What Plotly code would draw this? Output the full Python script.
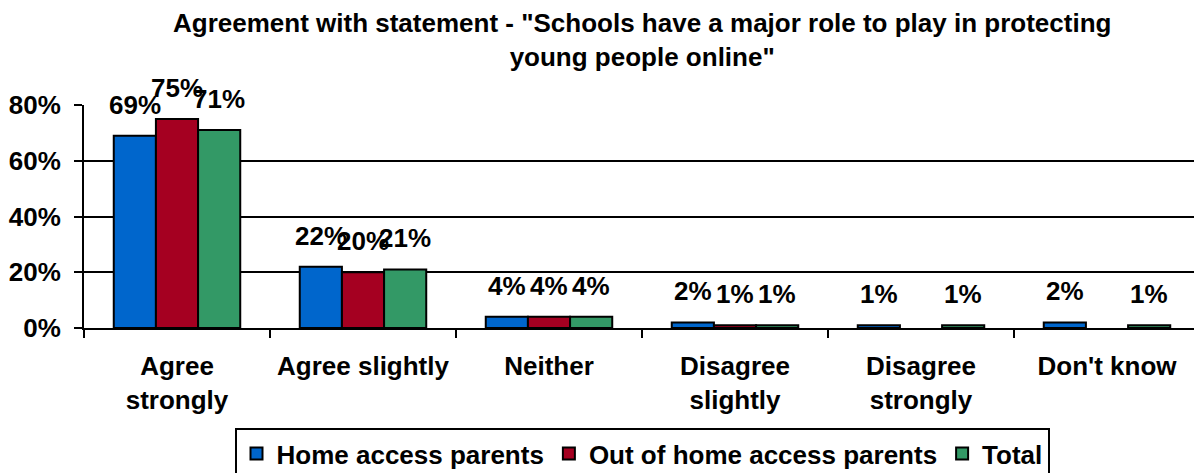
import plotly.graph_objects as go

# Survey data (percent)
categories = ["Agree<br>strongly", "Agree slightly", "Neither",
              "Disagree<br>slightly", "Disagree<br>strongly", "Don't know"]
home_access = [69, 22, 4, 2, 1, 2]
out_of_home_access = [75, 20, 4, 1, None, None]
total = [71, 21, 4, 1, 1, 1]

series_names = ["Home access parents", "Out of home access parents", "Total"]
series_colors = ["#0066CC", "#A50021", "#339966"]
y_ticks = [0, 20, 40, 60, 80]

FONT = "Liberation Sans, Arial, sans-serif"
FS = 26

# the page body has an 8px margin, so the figure is a bit smaller than the window
W, H = 1194, 465
M_L, M_R, M_T, M_B = 76, 2, 97, 145
BARGAP = 0.32
plot_w = W - M_L - M_R
plot_h = H - M_T - M_B
bar_px = plot_w / len(categories) * (1 - BARGAP) / 3

fig = go.Figure()
all_series = [home_access, out_of_home_access, total]
for name, values, color in zip(series_names, all_series, series_colors):
    fig.add_trace(go.Bar(
        x=categories,
        y=values,
        name=f"<b>{name}</b>",
        marker=dict(color=color, line=dict(color="black", width=2)),
    ))

# value labels above the bars
for i, values in enumerate(all_series):
    for cat, v in zip(categories, values):
        if v is None:
            continue
        fig.add_annotation(
            x=cat, y=v, xref="x", yref="y",
            text=f"<b>{v}%</b>", showarrow=False,
            xshift=(i - 1) * bar_px, yshift=14, yanchor="bottom",
            font=dict(family=FONT, size=FS, color="black"),
        )

# title
fig.add_annotation(
    x=0.5, xref="paper", y=1 + (M_T + 2) / plot_h, yref="paper",
    xanchor="center", yanchor="top", showarrow=False,
    text="<b>Agreement with statement - \"Schools have a major role to play in protecting<br>young people online\"</b>",
    font=dict(family=FONT, size=FS, color="black"),
)

fig.update_layout(
    width=W,
    height=H,
    barmode="group",
    bargap=BARGAP,
    bargroupgap=0,
    plot_bgcolor="white",
    paper_bgcolor="white",
    font=dict(family=FONT, size=FS, color="black"),
    margin=dict(l=M_L, r=M_R, t=M_T, b=M_B, autoexpand=False),
    legend=dict(
        orientation="h",
        x=0.5, xanchor="center",
        y=-100 / plot_h, yanchor="top",
        bordercolor="black", borderwidth=2,
        font=dict(family=FONT, size=FS, color="black"),
        itemwidth=30,
    ),
    showlegend=True,
)

fig.update_xaxes(
    showline=True, linecolor="black", linewidth=2,
    tickson="boundaries", ticks="outside", ticklen=8, tickwidth=2,
    tickcolor="black",
    tickfont=dict(family=FONT, size=FS, color="black"),
    tickprefix="<b>", ticksuffix="</b>",
    ticklabelstandoff=14,
)

fig.update_yaxes(
    range=[0, 80],
    tickvals=y_ticks,
    ticktext=[f"<b>{t}%</b>" for t in y_ticks],
    showline=True, mirror=True, linecolor="black", linewidth=2,
    showgrid=True, gridcolor="black", gridwidth=2,
    ticks="outside", ticklen=8, tickwidth=2, tickcolor="black",
    tickfont=dict(family=FONT, size=FS, color="black"),
    zeroline=False,
    ticklabelstandoff=8,
)

fig.write_html("out.html")
